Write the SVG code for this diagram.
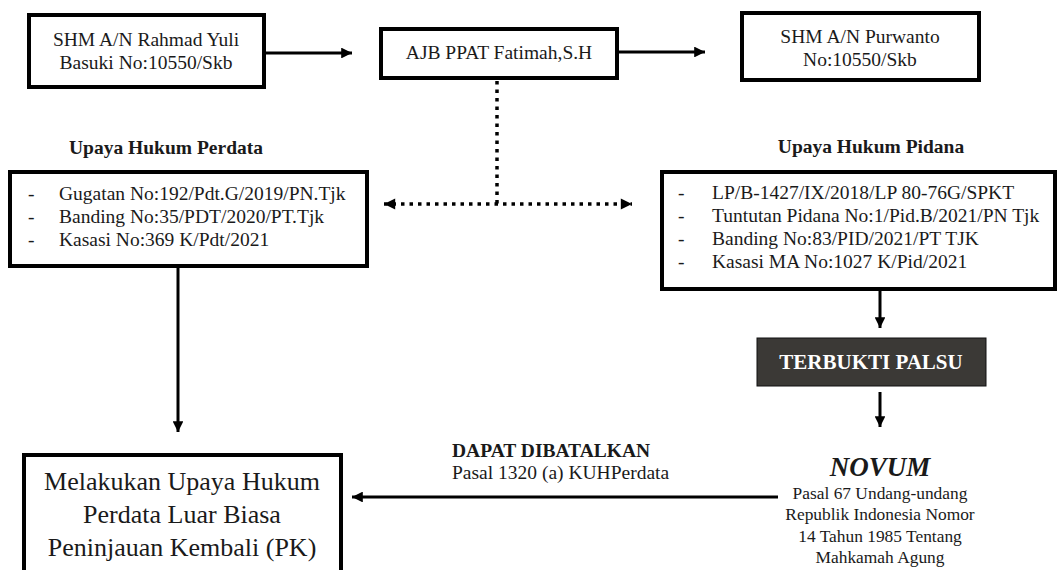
<svg xmlns="http://www.w3.org/2000/svg" width="1059" height="570" viewBox="0 0 1059 570">
<style>
.box{fill:#fff;stroke:#000;stroke-width:4}
.t{font-family:"Liberation Serif","Times New Roman",serif;font-size:19.5px;fill:#1a1a1a}
.c{text-anchor:middle}
.b{font-weight:bold}
.ln{stroke:#000;stroke-width:3;fill:none}
.dot{stroke:#000;stroke-width:3.5;fill:none;stroke-dasharray:3.5 5}
</style>
<defs>
<marker id="ah" viewBox="0 0 10 10" refX="10" refY="5" markerWidth="4" markerHeight="3.6" markerUnits="strokeWidth" orient="auto-start-reverse">
<path d="M0,0 L10,5 L0,10 z" fill="#000"/>
</marker>
<marker id="ahd" viewBox="0 0 10 10" refX="10" refY="5" markerWidth="3.6" markerHeight="3.2" markerUnits="strokeWidth" orient="auto-start-reverse">
<path d="M0,0 L10,5 L0,10 z" fill="#000"/>
</marker>
</defs>
<rect width="1059" height="570" fill="#fff"/>
<g id="connectors">
<line class="ln" x1="266" y1="53" x2="352" y2="53" marker-end="url(#ah)"/>
<line class="ln" x1="619" y1="52" x2="705" y2="52" marker-end="url(#ah)"/>
<line class="dot" x1="497" y1="81" x2="497" y2="204"/>
<line class="dot" x1="384" y1="204" x2="632" y2="204" marker-start="url(#ahd)" marker-end="url(#ahd)"/>
<line class="ln" x1="178" y1="268" x2="178" y2="432" marker-end="url(#ah)"/>
<line class="ln" x1="880" y1="291" x2="880" y2="328" marker-end="url(#ah)"/>
<line class="ln" x1="880" y1="392" x2="880" y2="427" marker-end="url(#ah)"/>
<line class="ln" x1="778" y1="497" x2="352" y2="497" marker-end="url(#ah)"/>
</g>
<g id="shm-rahmad">
<rect class="box" x="29" y="15" width="235" height="72"/>
<text class="t c" x="146" y="46">SHM A/N Rahmad Yuli</text>
<text class="t c" x="146" y="69">Basuki No:10550/Skb</text>
</g>
<g id="ajb">
<rect class="box" x="381" y="29" width="236" height="49"/>
<text class="t c" x="499" y="59">AJB PPAT Fatimah,S.H</text>
</g>
<g id="shm-purwanto">
<rect class="box" x="742" y="13" width="237" height="67"/>
<text class="t c" x="860" y="43">SHM A/N Purwanto</text>
<text class="t c" x="860" y="66">No:10550/Skb</text>
</g>
<g id="perdata">
<text class="t c b" x="166" y="154">Upaya Hukum Perdata</text>
<rect class="box" x="10" y="172" width="357" height="94"/>
<text class="t" x="28" y="200">-</text>
<text class="t" x="59" y="200">Gugatan No:192/Pdt.G/2019/PN.Tjk</text>
<text class="t" x="28" y="223">-</text>
<text class="t" x="59" y="223">Banding No:35/PDT/2020/PT.Tjk</text>
<text class="t" x="28" y="246">-</text>
<text class="t" x="59" y="246">Kasasi No:369 K/Pdt/2021</text>
</g>
<g id="pidana">
<text class="t c b" x="871" y="153">Upaya Hukum Pidana</text>
<rect class="box" x="662" y="172" width="393" height="117"/>
<text class="t" x="678" y="199">-</text>
<text class="t" x="712" y="199">LP/B-1427/IX/2018/LP 80-76G/SPKT</text>
<text class="t" x="678" y="222">-</text>
<text class="t" x="712" y="222">Tuntutan Pidana No:1/Pid.B/2021/PN Tjk</text>
<text class="t" x="678" y="245">-</text>
<text class="t" x="712" y="245">Banding No:83/PID/2021/PT TJK</text>
<text class="t" x="678" y="268">-</text>
<text class="t" x="712" y="268">Kasasi MA No:1027 K/Pid/2021</text>
</g>
<g id="terbukti">
<rect x="757" y="338" width="229" height="48" fill="#3b3936" stroke="#111" stroke-width="1"/>
<text class="t c b" x="871" y="369" style="fill:#fff;font-size:21px">TERBUKTI PALSU</text>
</g>
<g id="pk">
<rect class="box" x="24" y="455" width="317" height="130"/>
<text class="t c" x="182" y="490" style="font-size:26px">Melakukan Upaya Hukum</text>
<text class="t c" x="182" y="523" style="font-size:26px">Perdata Luar Biasa</text>
<text class="t c" x="182" y="556" style="font-size:26px">Peninjauan Kembali (PK)</text>
</g>
<g id="dapat">
<text class="t b" x="452" y="457">DAPAT DIBATALKAN</text>
<text class="t" x="452" y="479">Pasal 1320 (a) KUHPerdata</text>
</g>
<g id="novum">
<text class="t c b" x="880" y="476" style="font-style:italic;font-size:27px">NOVUM</text>
<text class="t c" x="880" y="499" style="font-size:17.4px">Pasal 67 Undang-undang</text>
<text class="t c" x="880" y="520" style="font-size:17.4px">Republik Indonesia Nomor</text>
<text class="t c" x="880" y="542" style="font-size:17.4px">14 Tahun 1985 Tentang</text>
<text class="t c" x="880" y="563" style="font-size:17.4px">Mahkamah Agung</text>
</g>
</svg>
